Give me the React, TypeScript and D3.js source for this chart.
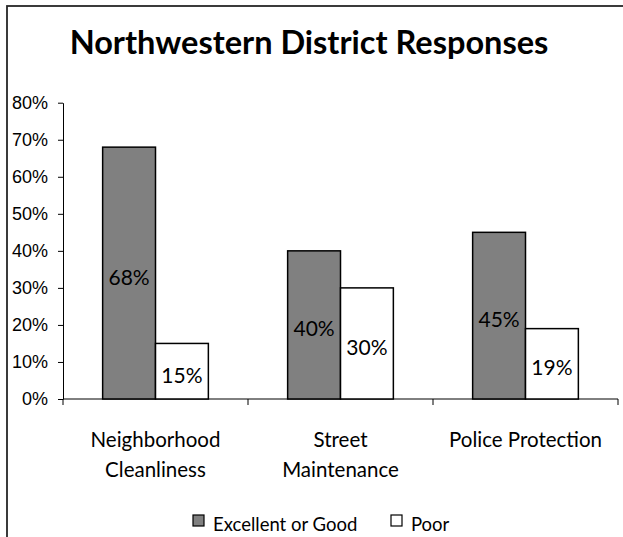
import React, { useEffect, useRef } from 'react';
import * as d3 from 'd3';

const categories = ['Neighborhood Cleanliness', 'Street Maintenance', 'Police Protection'];
const categoryLines = [['Neighborhood', 'Cleanliness'], ['Street', 'Maintenance'], ['Police Protection']];
const seriesNames = ['Excellent or Good', 'Poor'];
const excellentValues = [0.68, 0.4, 0.45];
const poorValues = [0.15, 0.3, 0.19];
const yTicks = [0, 0.1, 0.2, 0.3, 0.4, 0.5, 0.6, 0.7, 0.8];

const W = 623;
const H = 537;
const calibri = 'Lato, "Open Sans", sans-serif';

const App: React.FC = () => {
  const svgRef = useRef<SVGSVGElement | null>(null);

  useEffect(() => {
    if (!svgRef.current) return;
    const svg = d3.select(svgRef.current);
    svg.selectAll('*').remove();

    const plot = { left: 63, right: 618, top: 102.7, bottom: 399 };

    // chart frame (runs off the right and bottom edges)
    svg
      .append('rect')
      .attr('x', 7)
      .attr('y', 6)
      .attr('width', W + 20)
      .attr('height', H + 20)
      .attr('fill', 'white')
      .attr('stroke', '#262626')
      .attr('stroke-width', 1.8);

    svg
      .append('text')
      .attr('x', 309)
      .attr('y', 54)
      .attr('text-anchor', 'middle')
      .style('font-family', calibri)
      .style('font-weight', 'bold')
      .style('font-size', '32.5px')
      .text('Northwestern District Responses');

    const y = d3.scaleLinear().domain([0, 0.8]).range([plot.bottom, plot.top]);
    const x0 = d3.scaleBand<string>().domain(categories).range([plot.left, plot.right]).padding(0);
    const x1 = d3
      .scaleBand<string>()
      .domain(seriesNames)
      .range([0, x0.bandwidth()])
      .paddingInner(0)
      .paddingOuter(0.75);

    // y axis
    const yAxis = d3
      .axisLeft(y)
      .tickValues(yTicks)
      .tickFormat(d3.format('.0%'))
      .tickSize(5)
      .tickSizeOuter(0);
    const gy = svg.append('g').attr('transform', `translate(${plot.left},0)`).call(yAxis);
    gy.select('.domain').attr('stroke', 'black');
    gy.selectAll('line').attr('stroke', 'black');
    gy.selectAll('text')
      .attr('x', -15)
      .attr('fill', 'black')
      .style('font-family', '"Liberation Sans", Arial, sans-serif')
      .style('font-size', '18px');

    // x axis with ticks between categories
    svg
      .append('line')
      .attr('x1', plot.left)
      .attr('x2', plot.right)
      .attr('y1', plot.bottom)
      .attr('y2', plot.bottom)
      .attr('stroke', 'black');
    const bounds = [...categories.map(c => x0(c)!), plot.right];
    svg
      .selectAll('.xtick')
      .data(bounds)
      .enter()
      .append('line')
      .attr('x1', d => d)
      .attr('x2', d => d)
      .attr('y1', plot.bottom)
      .attr('y2', plot.bottom + 6)
      .attr('stroke', 'black');

    const rows = categories.map((c, i) => ({
      cat: c,
      values: [
        { key: seriesNames[0], value: excellentValues[i] },
        { key: seriesNames[1], value: poorValues[i] },
      ],
    }));
    const fills: Record<string, string> = { [seriesNames[0]]: '#808080', [seriesNames[1]]: '#ffffff' };

    const groups = svg
      .selectAll('.cat')
      .data(rows)
      .enter()
      .append('g')
      .attr('transform', d => `translate(${x0(d.cat)},0)`);

    groups
      .selectAll('rect')
      .data(d => d.values)
      .enter()
      .append('rect')
      .attr('x', d => x1(d.key)!)
      .attr('y', d => y(d.value))
      .attr('width', x1.bandwidth())
      .attr('height', d => y(0) - y(d.value))
      .attr('fill', d => fills[d.key])
      .attr('stroke', 'black')
      .attr('stroke-width', 1.5);

    groups
      .selectAll('.lbl')
      .data(d => d.values)
      .enter()
      .append('text')
      .attr('x', d => x1(d.key)! + x1.bandwidth() / 2)
      .attr('y', d => (y(d.value) + y(0)) / 2 + 3)
      .attr('text-anchor', 'middle')
      .attr('dominant-baseline', 'central')
      .style('font-family', calibri)
      .style('font-size', '21px')
      .text(d => d3.format('.0%')(d.value));

    // category labels
    categories.forEach((c, i) => {
      const t = svg
        .append('text')
        .attr('text-anchor', 'middle')
        .style('font-family', calibri)
        .style('font-size', '20.5px');
      categoryLines[i].forEach((line, j) => {
        t.append('tspan')
          .attr('x', x0(c)! + x0.bandwidth() / 2)
          .attr('y', 447 + j * 30)
          .text(line);
      });
    });

    // legend
    const legend = [
      { key: seriesNames[0], sx: 193, tx: 213 },
      { key: seriesNames[1], sx: 391, tx: 411 },
    ];
    legend.forEach(l => {
      svg
        .append('rect')
        .attr('x', l.sx)
        .attr('y', 515)
        .attr('width', 11)
        .attr('height', 11)
        .attr('fill', fills[l.key])
        .attr('stroke', 'black')
        .attr('stroke-width', 1.2);
      svg
        .append('text')
        .attr('x', l.tx)
        .attr('y', 531)
        .style('font-family', calibri)
        .style('font-size', '18.5px')
        .text(l.key);
    });
  }, []);

  return (
    <svg
      ref={svgRef}
      width={W}
      height={H}
      style={{ position: 'absolute', left: 0, top: 0, background: 'white' }}
    />
  );
};

export default App;
